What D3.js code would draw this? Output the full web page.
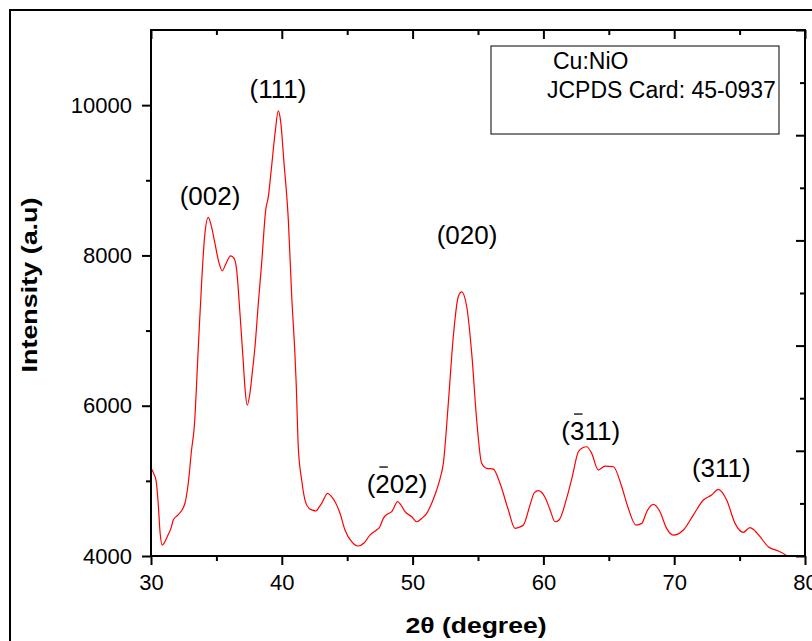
<!DOCTYPE html>
<html>
<head>
<meta charset="utf-8">
<script src="https://cdn.jsdelivr.net/npm/d3@7/dist/d3.min.js"></script>
<style>
  html, body { margin: 0; padding: 0; background: #fff; }
  svg { display: block; font-family: "Liberation Sans", Arial, sans-serif; }
</style>
</head>
<body>
<div id="chart"></div>
<script>
// XRD pattern, Cu:NiO
const twoTheta = [
  30.0, 30.2, 30.4, 30.55, 30.7, 30.86, 31.0, 31.3, 31.55, 31.7, 31.9, 32.2, 32.6, 32.85, 33.1,
  33.31, 33.62, 33.88, 34.1, 34.38, 34.6, 34.9, 35.2, 35.45, 35.7, 36.09, 36.35, 36.55, 36.8, 37.06,
  37.2, 37.36, 37.55, 37.75, 37.95, 38.2, 38.46, 38.77, 38.97, 39.2, 39.5, 39.73, 39.9, 40.17, 40.5,
  40.76, 41.0, 41.1, 41.26, 41.52, 41.77, 42.08, 42.35, 42.61, 42.85, 43.05, 43.51, 43.8, 44.07, 44.45,
  44.83, 45.34, 45.8, 46.31, 46.74, 47.2, 47.5, 47.76, 48.1, 48.4, 48.86, 49.1, 49.42, 49.93, 50.31,
  50.7, 51.08, 51.5, 51.84, 52.1, 52.35, 52.73, 53.11, 53.49, 53.75, 54.14, 54.52, 54.9, 55.28, 55.67,
  56.17, 56.68, 57.32, 57.83, 58.1, 58.47, 58.98, 59.3, 59.61, 60.1, 60.5, 60.89, 61.2, 61.78, 62.2,
  62.67, 63.0, 63.31, 63.69, 64.2, 64.71, 65.35, 65.99, 66.49, 67.08, 67.52, 67.9, 68.41, 68.91, 69.42,
  69.93, 70.7, 71.46, 72.23, 72.86, 73.37, 74.01, 74.65, 75.28, 75.79, 76.2, 76.56, 77.19, 77.96, 78.6,
  78.8
];
const intensity = [
  5170, 5100, 4990, 4700, 4300, 4146, 4170, 4280, 4380, 4480, 4520, 4572, 4705, 4971, 5410,
  5720, 6785, 7672, 8250, 8506, 8400, 8150, 7900, 7795, 7880, 7995, 7960, 7805, 7233, 6567,
  6200, 6009, 6150, 6450, 6785, 7350, 7898, 8603, 8780, 9150, 9650, 9924, 9800, 9228, 8470,
  7450, 6700, 6300, 5450, 5011, 4745, 4634, 4610, 4599, 4650, 4701, 4834, 4790, 4723, 4568,
  4346, 4190, 4133, 4177, 4279, 4340, 4390, 4501, 4560, 4590, 4723, 4680, 4590, 4523, 4456,
  4500, 4568, 4720, 4878, 5030, 5233, 6031, 6918, 7450, 7516, 7317, 6696, 5809, 5233, 5166,
  5157, 4967, 4612, 4368, 4380, 4412, 4680, 4840, 4869, 4789, 4620, 4456, 4480, 4770, 5050,
  5388, 5440, 5454, 5366, 5144, 5197, 5188, 4922, 4635, 4412, 4434, 4590, 4688, 4590, 4368,
  4279, 4346, 4545, 4745, 4811, 4887, 4745, 4434, 4315, 4377, 4330, 4257, 4124, 4067, 4004,
  3970
];

const xMajor = [30, 40, 50, 60, 70, 80];
const xMinor = [35, 45, 55, 65, 75];
const yMajor = [4000, 6000, 8000, 10000];
const yMinor = [5000, 7000, 9000];
const rightMajor = [0, 2, 4, 6, 8, 10];
const rightMinor = [1, 3, 5, 7, 9];

// peak labels: "(" + barred digit + rest, placed at 2θ / intensity of the baseline
const peakLabels = [
  { pre: '(', bar: '', post: '002)', x: 34.51, y: 8670 },
  { pre: '(', bar: '', post: '111)', x: 39.71, y: 10093 },
  { pre: '(', bar: '', post: '020)', x: 54.16, y: 8150 },
  { pre: '(', bar: '2', post: '02)', x: 48.81, y: 4838 },
  { pre: '(', bar: '3', post: '11)', x: 63.62, y: 5543 },
  { pre: '(', bar: '', post: '311)', x: 73.6, y: 5051 }
];
const legendLines = ['Cu:NiO', 'JCPDS Card: 45-0937'];

const W = 812, H = 641;
const margin = { top: 30, right: 7, bottom: 85, left: 151 };
const iw = W - margin.left - margin.right;
const ih = H - margin.top - margin.bottom;

const svg = d3.select('#chart').append('svg')
  .attr('width', W).attr('height', H);

// outer frame (runs past the right and bottom edge)
svg.append('rect')
  .attr('x', 10).attr('y', 10).attr('width', 830).attr('height', 660)
  .attr('fill', 'none').attr('stroke', '#000').attr('stroke-width', 2);

const g = svg.append('g').attr('transform', `translate(${margin.left},${margin.top})`);

const x = d3.scaleLinear([30, 80], [0, iw]);
const y = d3.scaleLinear([4000, 11000], [ih, 0]);
const yR = d3.scaleLinear([0, 10], [ih, 0]);

g.append('defs').append('clipPath').attr('id', 'clip')
  .append('rect').attr('width', iw).attr('height', ih);

const pts = twoTheta.map((t, i) => [t, intensity[i]]);
const line = d3.line().x(d => x(d[0])).y(d => y(d[1])).curve(d3.curveMonotoneX);

g.append('path')
  .datum(pts)
  .attr('clip-path', 'url(#clip)')
  .attr('fill', 'none').attr('stroke', '#ff0000').attr('stroke-width', 1.2)
  .attr('d', line);

function styleAxis(sel) {
  sel.select('.domain').remove();
  sel.selectAll('line').attr('stroke', '#000').attr('stroke-width', 2);
  sel.selectAll('text').attr('fill', '#000').attr('font-size', 22)
    .attr('font-family', '"Liberation Sans", Arial, sans-serif');
}

// bottom axis
g.append('g').attr('transform', `translate(0,${ih})`)
  .call(d3.axisBottom(x).tickValues(xMajor).tickSize(9).tickPadding(9).tickFormat(d3.format('d')))
  .call(styleAxis);
g.append('g').attr('transform', `translate(0,${ih})`)
  .call(d3.axisBottom(x).tickValues(xMinor).tickSize(5).tickFormat(''))
  .call(styleAxis);

// left axis
g.append('g')
  .call(d3.axisLeft(y).tickValues(yMajor).tickSize(9).tickPadding(10).tickFormat(d3.format('d')))
  .call(styleAxis);
g.append('g')
  .call(d3.axisLeft(y).tickValues(yMinor).tickSize(5).tickFormat(''))
  .call(styleAxis);

// top axis (ticks inside)
g.append('g')
  .call(d3.axisTop(x).tickValues(xMajor).tickSize(-9).tickFormat(''))
  .call(styleAxis);
g.append('g')
  .call(d3.axisTop(x).tickValues(xMinor).tickSize(-5).tickFormat(''))
  .call(styleAxis);

// right axis (ticks inside)
g.append('g').attr('transform', `translate(${iw},0)`)
  .call(d3.axisRight(yR).tickValues(rightMajor).tickSize(-9).tickFormat(''))
  .call(styleAxis);
g.append('g').attr('transform', `translate(${iw},0)`)
  .call(d3.axisRight(yR).tickValues(rightMinor).tickSize(-5).tickFormat(''))
  .call(styleAxis);

// plot frame
g.append('rect')
  .attr('width', iw).attr('height', ih)
  .attr('fill', 'none').attr('stroke', '#000').attr('stroke-width', 2);

// peak labels
peakLabels.forEach(d => {
  const t = g.append('text')
    .attr('x', x(d.x)).attr('y', y(d.y))
    .attr('text-anchor', 'middle')
    .attr('font-size', 26).attr('fill', '#000')
    .text(d.pre + d.bar + d.post);
  if (d.bar) {
    const n = t.node();
    const s = n.getStartPositionOfChar(1);
    const e = n.getEndPositionOfChar(1);
    g.append('line')
      .attr('x1', s.x + 4).attr('x2', e.x - 2)
      .attr('y1', y(d.y) - 26).attr('y2', y(d.y) - 26)
      .attr('stroke', '#000').attr('stroke-width', 1.3);
  }
});

// legend box
svg.append('rect')
  .attr('x', 491).attr('y', 46).attr('width', 288).attr('height', 88)
  .attr('fill', '#fff').attr('stroke', '#000').attr('stroke-width', 1);
svg.append('text').attr('x', 553).attr('y', 69)
  .attr('font-size', 23).attr('fill', '#000').text(legendLines[0]);
svg.append('text').attr('x', 547).attr('y', 98)
  .attr('font-size', 23).attr('fill', '#000').text(legendLines[1]);

// axis titles
svg.append('text')
  .attr('x', 476).attr('y', 633)
  .attr('text-anchor', 'middle')
  .attr('font-size', 22).attr('font-weight', 'bold')
  .attr('textLength', 141).attr('lengthAdjust', 'spacingAndGlyphs')
  .text('2θ (degree)');

svg.append('text')
  .attr('transform', 'translate(37,285) rotate(-90)')
  .attr('text-anchor', 'middle')
  .attr('font-size', 22).attr('font-weight', 'bold')
  .attr('textLength', 175).attr('lengthAdjust', 'spacingAndGlyphs')
  .text('Intensity (a.u)');
</script>
</body>
</html>
